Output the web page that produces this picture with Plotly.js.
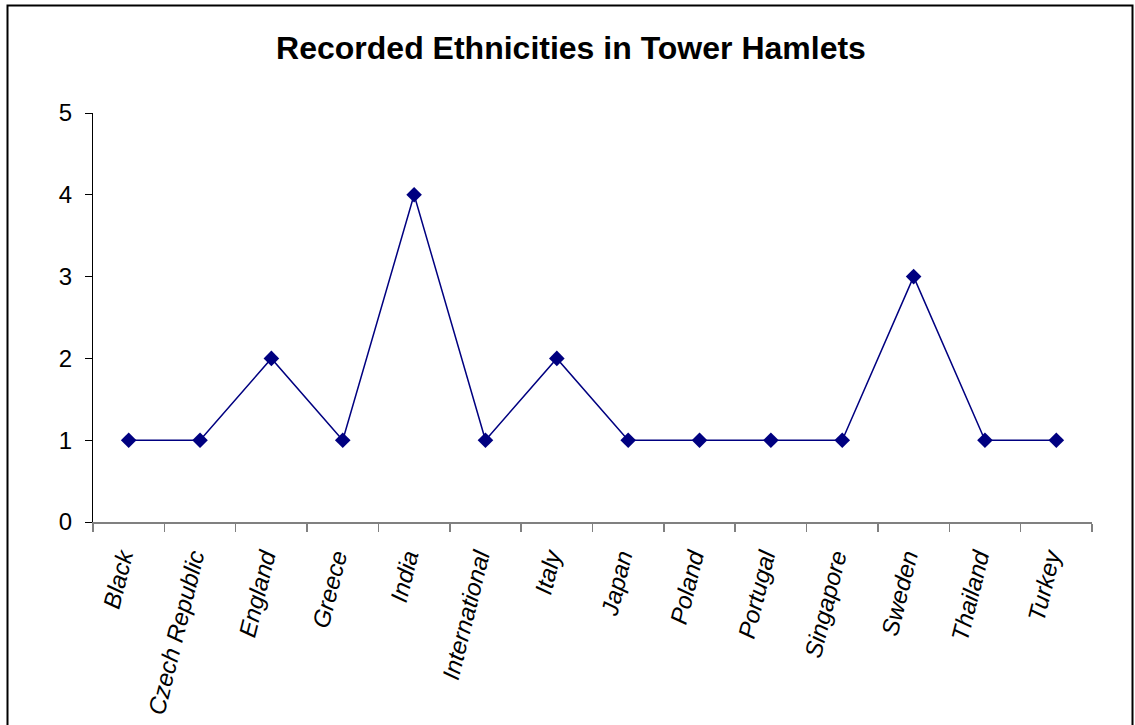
<!DOCTYPE html>
<html>
<head>
<meta charset="utf-8">
<script src="https://cdn.plot.ly/plotly-3.0.1.min.js"></script>
<style>
html,body{margin:0;padding:0;background:#fff;overflow:hidden;}
#chart{width:1135px;height:725px;}
</style>
</head>
<body>
<div id="chart"></div>
<script>
var categories = ["Black","Czech Republic","England","Greece","India","International","Italy","Japan","Poland","Portugal","Singapore","Sweden","Thailand","Turkey"];
var counts = [1,1,2,1,4,1,2,1,1,1,1,3,1,1];
var yTicks = [0,1,2,3,4,5];

var trace = {
  x: categories,
  y: counts,
  type: "scatter",
  mode: "lines+markers",
  line: {color: "#000080", width: 1.5},
  marker: {symbol: "diamond", size: 12, color: "#000080"},
  hoverinfo: "x+y"
};

var L = 93, R = 1092, T = 113, B = 522, W = 1135, H = 725;
var pw = R - L, ph = B - T;

var layout = {
  width: W, height: H,
  margin: {l: L, r: W - R, t: T, b: H - B, pad: 0},
  paper_bgcolor: "#ffffff",
  plot_bgcolor: "#ffffff",
  showlegend: false,
  font: {family: "Liberation Sans, Arial, sans-serif", color: "#000"},
  title: {
    text: "<b>Recorded Ethnicities in Tower Hamlets</b>",
    font: {size: 32, family: "Liberation Sans, Arial, sans-serif", color: "#000"},
    x: 571 / W, xanchor: "center",
    y: 1 - 48 / H, yanchor: "middle",
    xref: "container", yref: "container"
  },
  xaxis: {
    type: "category",
    range: [-0.5, categories.length - 0.5],
    showgrid: false, zeroline: false,
    showline: true, linecolor: "#808080", linewidth: 1.5,
    ticks: "outside", tickson: "boundaries", ticklen: 8, tickcolor: "#808080", tickwidth: 1.5,
    tickangle: -76,
    ticklabelstandoff: 10,
    ticklabelshift: -7,
    tickfont: {size: 24, style: "italic", family: "Liberation Sans, Arial, sans-serif", color: "#000"},
    fixedrange: true
  },
  yaxis: {
    range: [0, 5],
    tickvals: yTicks,
    showgrid: false, zeroline: false,
    showline: true, linecolor: "#000", linewidth: 1,
    ticks: "outside", ticklen: 7, tickcolor: "#000", tickwidth: 1,
    ticklabelstandoff: 8,
    tickfont: {size: 24, family: "Liberation Sans, Arial, sans-serif", color: "#000"},
    fixedrange: true
  },
  shapes: [{
    type: "rect", xref: "paper", yref: "paper", layer: "above",
    x0: (7.5 - L) / pw, x1: (1132.5 - L) / pw,
    y0: (B - 740) / ph, y1: (B - 5.5) / ph,
    line: {color: "#000", width: 2}, fillcolor: "rgba(0,0,0,0)"
  }]
};

Plotly.newPlot("chart", [trace], layout, {displayModeBar: false, staticPlot: true});
</script>
</body>
</html>
